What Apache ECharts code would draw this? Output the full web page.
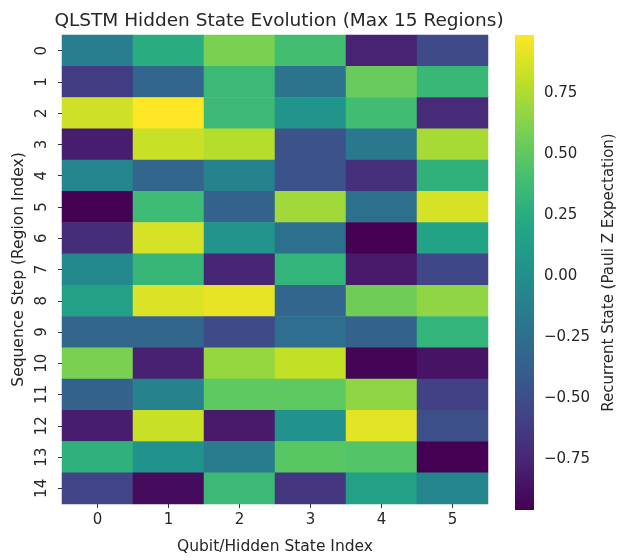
<!DOCTYPE html>
<html>
<head>
<meta charset="utf-8">
<script src="https://cdn.jsdelivr.net/npm/echarts@6/dist/echarts.min.js"></script>
<style>html,body{margin:0;padding:0;background:#fff;}#chart{width:618px;height:560px;}</style>
</head>
<body>
<div id="chart"></div>
<script>
const TITLE = 'QLSTM Hidden State Evolution (Max 15 Regions)';
const X_NAME = 'Qubit/Hidden State Index';
const Y_NAME = 'Sequence Step (Region Index)';
const CB_NAME = 'Recurrent State (Pauli Z Expectation)';
const qubitLabels = ['0','1','2','3','4','5'];
const stepLabels = ['0','1','2','3','4','5','6','7','8','9','10','11','12','13','14'];
const VMIN = -0.96;
const VMAX = 0.99;
const cbTicks = [-0.75, -0.5, -0.25, 0, 0.25, 0.5, 0.75];
// rows = sequence step, columns = qubit index
const stateValues = [
  [-0.14, 0.25, 0.60, 0.40, -0.77, -0.53],
  [-0.61, -0.32, 0.36, -0.22, 0.54, 0.34],
  [0.85, 0.99, 0.36, 0.05, 0.38, -0.73],
  [-0.80, 0.83, 0.77, -0.47, -0.18, 0.73],
  [-0.08, -0.32, -0.10, -0.47, -0.69, 0.29],
  [-0.96, 0.37, -0.34, 0.71, -0.24, 0.87],
  [-0.71, 0.87, 0.05, -0.24, -0.96, 0.17],
  [-0.05, 0.33, -0.75, 0.31, -0.82, -0.55],
  [0.15, 0.89, 0.92, -0.32, 0.56, 0.66],
  [-0.32, -0.32, -0.53, -0.26, -0.34, 0.31],
  [0.60, -0.78, 0.68, 0.81, -0.94, -0.86],
  [-0.34, -0.10, 0.50, 0.50, 0.66, -0.59],
  [-0.80, 0.83, -0.82, 0.02, 0.91, -0.49],
  [0.29, 0.02, -0.16, 0.48, 0.46, -0.96],
  [-0.57, -0.90, 0.36, -0.65, 0.15, -0.08]
];
const VIRIDIS = ['#440154','#482475','#414487','#355f8d','#2a788e','#21918c','#22a884','#44bf70','#7ad151','#bddf26','#fde725'];

const heatData = [];
stateValues.forEach((row, r) => row.forEach((v, c) => heatData.push([c, r, v])));

const FONT = 'DejaVu Sans';
const TXT = '#262626';
const chart = echarts.init(document.getElementById('chart'), null, {renderer: 'canvas'});
const gradStops = VIRIDIS.map((c, i) => ({offset: i / (VIRIDIS.length - 1), color: c}));

chart.setOption({
  animation: false,
  backgroundColor: '#fff',
  textStyle: {fontFamily: FONT},
  title: {
    text: TITLE, left: 274, top: 7, textAlign: 'center',
    textStyle: {fontFamily: FONT, fontSize: 18.5, fontWeight: 'normal', color: TXT}
  },
  grid: [
    {left: 62, top: 35, width: 426, height: 475, containLabel: false},
    {left: 515, top: 35, width: 24, height: 475, containLabel: false}
  ],
  xAxis: [
    {
      type: 'category', data: qubitLabels, gridIndex: 0, position: 'bottom',
      axisLine: {show: false},
      axisTick: {show: true, alignWithLabel: true, length: 4, lineStyle: {color: '#333'}},
      axisLabel: {fontFamily: FONT, fontSize: 15, color: TXT, margin: 9},
      splitLine: {show: false},
      name: X_NAME, nameLocation: 'middle', nameGap: 35,
      nameTextStyle: {fontFamily: FONT, fontSize: 15.5, color: TXT}
    },
    {type: 'value', gridIndex: 1, min: 0, max: 1, show: false}
  ],
  yAxis: [
    {
      type: 'category', data: stepLabels, gridIndex: 0, inverse: true,
      axisLine: {show: false},
      axisTick: {show: true, alignWithLabel: true, length: 4, lineStyle: {color: '#333'}},
      axisLabel: {fontFamily: FONT, fontSize: 15, color: TXT, rotate: 90, margin: 12},
      splitLine: {show: false},
      name: Y_NAME, nameLocation: 'middle', nameGap: 34, nameRotate: 90,
      nameTextStyle: {fontFamily: FONT, fontSize: 15.5, color: TXT}
    },
    {
      type: 'value', gridIndex: 1, min: VMIN, max: VMAX, position: 'right',
      axisLine: {show: false},
      axisTick: {show: true, length: 4, customValues: cbTicks, lineStyle: {color: '#333'}},
      axisLabel: {
        fontFamily: FONT, fontSize: 15, color: TXT, margin: 10, customValues: cbTicks,
        formatter: v => (v < 0 ? '\u2212' : '') + Math.abs(v).toFixed(2)
      },
      splitLine: {show: false},
      name: CB_NAME, nameLocation: 'middle', nameGap: 68, nameRotate: 90,
      nameTextStyle: {fontFamily: FONT, fontSize: 15, color: TXT}
    }
  ],
  visualMap: {
    type: 'continuous', min: VMIN, max: VMAX, show: false, seriesIndex: 0,
    dimension: 2, inRange: {color: VIRIDIS}
  },
  series: [
    {
      type: 'heatmap', xAxisIndex: 0, yAxisIndex: 0, data: heatData,
      itemStyle: {borderWidth: 0},
      emphasis: {disabled: true}, progressive: 0
    },
    {
      type: 'custom', xAxisIndex: 1, yAxisIndex: 1,
      data: [[0, VMIN, 1, VMAX]],
      encode: {x: [0, 2], y: [1, 3]},
      renderItem: function (params, api) {
        const p0 = api.coord([api.value(0), api.value(3)]);
        const p1 = api.coord([api.value(2), api.value(1)]);
        return {
          type: 'rect',
          shape: {x: p0[0], y: p0[1], width: p1[0] - p0[0], height: p1[1] - p0[1]},
          style: {fill: new echarts.graphic.LinearGradient(0, 1, 0, 0, gradStops)}
        };
      }
    }
  ]
});
</script>
</body>
</html>
